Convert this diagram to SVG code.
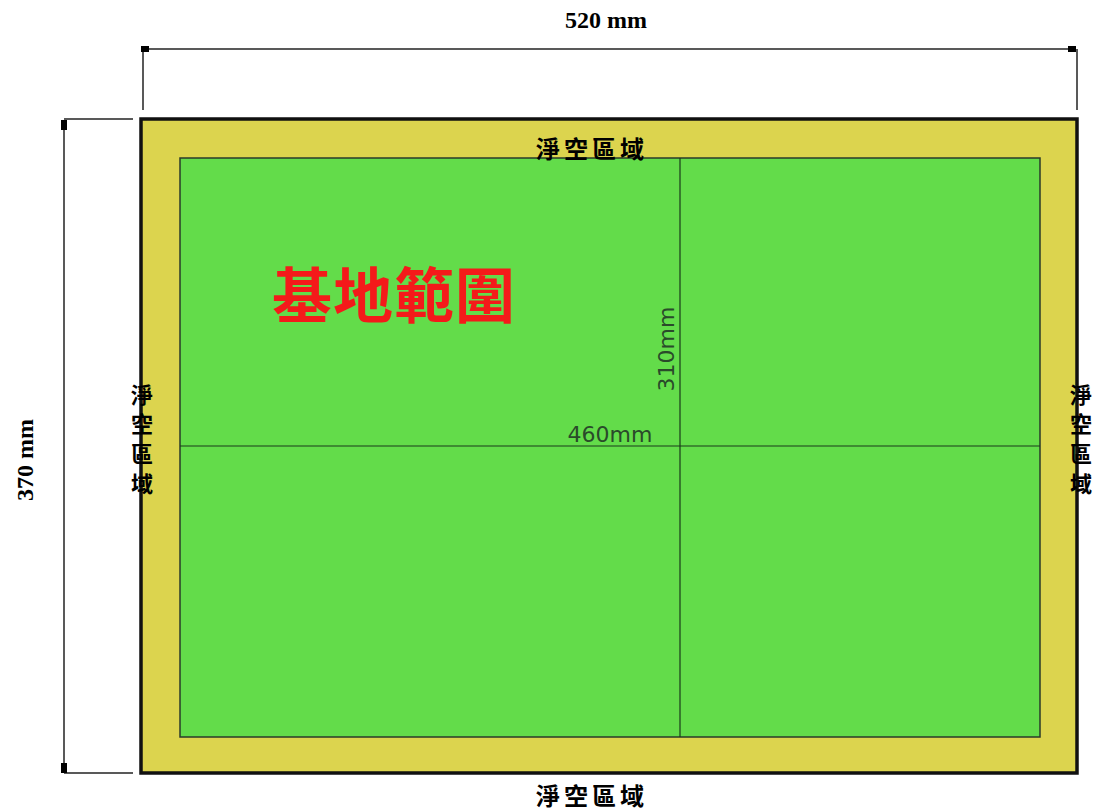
<svg xmlns="http://www.w3.org/2000/svg" width="1099" height="812" viewBox="0 0 1099 812">
<style>
.dim{stroke:#222;stroke-width:1.5;fill:none}
.thin{stroke:#1a3a1a;stroke-width:1.2;fill:none}
.lbl{font-family:"Liberation Serif",serif;font-weight:bold;font-size:24px;fill:#000}
.zone{font-family:"Noto Sans CJK TC",sans-serif;font-weight:bold;font-size:24px;fill:#000}
.cad{font-family:"DejaVu Sans",sans-serif;font-size:22px;fill:#2a4a2a}
</style>
<rect width="1099" height="812" fill="#fff"/>
<g id="site">
<rect x="141" y="119" width="936" height="654" fill="#DCD44E" stroke="#111" stroke-width="3.5"/>
<rect x="180" y="158" width="860" height="579" fill="#63DC4A" stroke="#2a3a2a" stroke-width="1.5"/>
</g>
<g id="connectors">
<line class="dim" x1="146" y1="49" x2="1074" y2="49"/>
<line class="dim" x1="143" y1="49" x2="143" y2="110"/>
<line class="dim" x1="1077" y1="49" x2="1077" y2="110"/>
<path d="M141 46 h8 v6 h-8z" fill="#000"/>
<path d="M1068 46 h8 v6 h-8z" fill="#000"/>
<line class="dim" x1="64" y1="124" x2="64" y2="770"/>
<line class="dim" x1="64" y1="119" x2="133" y2="119"/>
<line class="dim" x1="64" y1="773" x2="133" y2="773"/>
<path d="M61 120 h6 v10 h-6z" fill="#000"/>
<path d="M61 763 h6 v10 h-6z" fill="#000"/>
<line class="thin" x1="680" y1="158" x2="680" y2="737"/>
<line class="thin" x1="180" y1="446" x2="1040" y2="446"/>
</g>
<g id="labels">
<text class="lbl" x="606" y="28" text-anchor="middle">520 mm</text>
<text class="lbl" transform="translate(33,460) rotate(-90)" text-anchor="middle">370 mm</text>
<text class="cad" x="610" y="442" text-anchor="middle">460mm</text>
<text class="cad" transform="translate(674,349) rotate(-90)" text-anchor="middle">310mm</text>
<text x="394" y="318" text-anchor="middle" font-family="Noto Sans CJK TC,sans-serif" font-size="60" font-weight="bold" fill="#F41A1A" letter-spacing="1">基地範圍</text>
</g>
<g id="zone-top"><text class="zone" x="592" y="158" text-anchor="middle" letter-spacing="4">淨空區域</text></g>
<g id="zone-bottom"><text class="zone" x="592" y="805" text-anchor="middle" letter-spacing="4">淨空區域</text></g>
<g id="zone-left" font-size="22">
<text class="zone" x="142" y="403" text-anchor="middle" style="font-size:22px">淨</text>
<text class="zone" x="142" y="432" text-anchor="middle" style="font-size:22px">空</text>
<text class="zone" x="142" y="462" text-anchor="middle" style="font-size:22px">區</text>
<text class="zone" x="142" y="492" text-anchor="middle" style="font-size:22px">域</text>
</g>
<g id="zone-right">
<text class="zone" x="1081" y="403" text-anchor="middle" style="font-size:22px">淨</text>
<text class="zone" x="1081" y="432" text-anchor="middle" style="font-size:22px">空</text>
<text class="zone" x="1081" y="462" text-anchor="middle" style="font-size:22px">區</text>
<text class="zone" x="1081" y="492" text-anchor="middle" style="font-size:22px">域</text>
</g>
</svg>
